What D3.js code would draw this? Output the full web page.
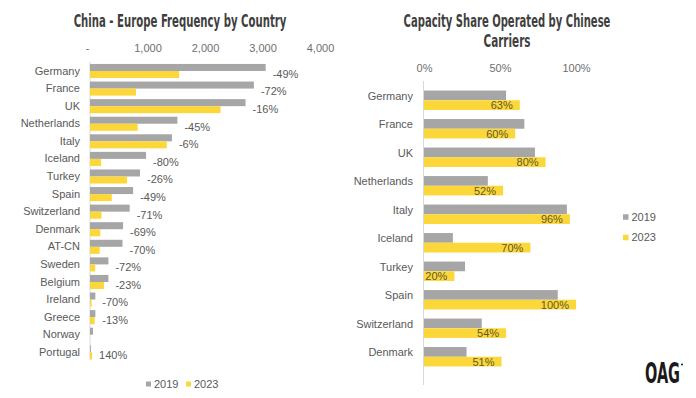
<!DOCTYPE html>
<html>
<head>
<meta charset="utf-8">
<script src="https://cdn.jsdelivr.net/npm/d3@7"></script>
<style>
  body { margin: 0; background: #fff; }
  svg text { font-family: "Liberation Sans", Arial, sans-serif; }
</style>
</head>
<body>
<div id="chart"></div>
<script>
// left chart: weekly frequencies China - Europe
const freqCountries = ["Germany", "France", "UK", "Netherlands", "Italy", "Iceland", "Turkey", "Spain",
  "Switzerland", "Denmark", "AT-CN", "Sweden", "Belgium", "Ireland", "Greece", "Norway", "Portugal"];
const freq2019 = [3055, 2850, 2705, 1520, 1425, 975, 870, 750, 690, 575, 565, 320, 320, 93, 93, 52, 15];
const freq2023 = [1550, 800, 2270, 830, 1335, 192, 643, 378, 200, 178, 168, 90, 245, 28, 80, 0, 36];
const freqChange = ["-49%", "-72%", "-16%", "-45%", "-6%", "-80%", "-26%", "-49%",
  "-71%", "-69%", "-70%", "-72%", "-23%", "-70%", "-13%", "", "140%"];
const freqTicks = [0, 1000, 2000, 3000, 4000];

// right chart: share of capacity by chinese carriers
const shareCountries = ["Germany", "France", "UK", "Netherlands", "Italy", "Iceland", "Turkey", "Spain",
  "Switzerland", "Denmark"];
const share2019 = [54, 66, 73, 42, 94, 19, 27, 88, 38, 28];
const share2023 = [63, 60, 80, 52, 96, 70, 20, 100, 54, 51];
const shareTicks = [0, 50, 100];

const years = ["2019", "2023"];
const grey = "#a6a6a6", yellow = "#fcd73a";
const textCol = "#595959";

const svg = d3.select("#chart").append("svg")
  .attr("width", 696)
  .attr("height", 398)
  .style("display", "block");

svg.append("rect").attr("width", 696).attr("height", 398).attr("fill", "#fff");

// condensed text: squeeze the narrow font horizontally to the wanted width
function squeezed(x, y, str, len, size, col) {
  let t = svg.append("text")
    .attr("text-anchor", "middle")
    .style("font-family", "'Liberation Sans Narrow', 'DejaVu Sans Condensed', sans-serif")
    .style("font-weight", "bold")
    .style("font-size", size + "px")
    .attr("fill", col)
    .text(str);
  let w = t.node().getComputedTextLength();
  t.attr("transform", "translate(" + x + "," + y + ") scale(" + (len / w) + ",1)");
  return t;
}

// ---------- left chart ----------
squeezed(180, 27, "China - Europe Frequency by Country", 213, 17, "#3f3f3f");

let x1 = d3.scaleLinear().domain([0, 4000]).range([90, 320]);
let y1 = d3.scaleBand().domain(freqCountries).range([62.2, 361.1])
  .paddingInner(0.2).paddingOuter(0.1);

let ax1 = svg.append("g")
  .attr("transform", "translate(0,52)")
  .call(d3.axisTop(x1).tickValues(freqTicks).tickSize(0).tickPadding(0)
    .tickFormat(d => d === 0 ? "-" : d3.format(",")(d)));
ax1.select(".domain").remove();
ax1.selectAll("text").style("font-size", "11px").attr("fill", "#6f6f6f");
ax1.selectAll("text").filter(d => d === 0).attr("dx", -3);

svg.append("line")
  .attr("x1", x1(0)).attr("x2", x1(0))
  .attr("y1", 62).attr("y2", 360)
  .attr("stroke", "#d9d9d9");

let cat1 = svg.append("g")
  .attr("transform", "translate(90,0)")
  .call(d3.axisLeft(y1).tickSize(0).tickPadding(10));
cat1.select(".domain").remove();
cat1.selectAll("text").style("font-size", "11px").attr("fill", textCol);

let bw1 = y1.bandwidth() / 2;
svg.append("g").selectAll("rect")
  .data(freqCountries)
  .enter().append("rect")
  .attr("x", x1(0))
  .attr("y", d => y1(d))
  .attr("width", (d, i) => x1(freq2019[i]) - x1(0))
  .attr("height", bw1)
  .attr("fill", grey);
svg.append("g").selectAll("rect")
  .data(freqCountries)
  .enter().append("rect")
  .attr("x", x1(0))
  .attr("y", d => y1(d) + bw1)
  .attr("width", (d, i) => x1(freq2023[i]) - x1(0))
  .attr("height", bw1)
  .attr("fill", yellow);

svg.append("g").selectAll("text")
  .data(freqCountries)
  .enter().append("text")
  .attr("x", (d, i) => x1(Math.max(freq2019[i], freq2023[i])) + 7)
  .attr("y", d => y1(d) + y1.bandwidth() / 2 + 3)
  .attr("dy", "0.35em")
  .style("font-size", "11px")
  .attr("fill", textCol)
  .text((d, i) => freqChange[i]);

// legend under left chart
let leg1 = svg.append("g").attr("transform", "translate(146,384)");
years.forEach((yr, i) => {
  let g = leg1.append("g").attr("transform", "translate(" + (i * 40) + ",0)");
  g.append("rect").attr("x", 0).attr("y", -2.5).attr("width", 5).attr("height", 5)
    .attr("fill", i === 0 ? grey : yellow);
  g.append("text").attr("x", 8).attr("dy", "0.35em")
    .style("font-size", "11px").attr("fill", textCol).text(yr);
});

// ---------- right chart ----------
squeezed(507, 26.7, "Capacity Share Operated by Chinese", 207, 17, "#3f3f3f");
squeezed(507, 46.7, "Carriers", 47, 17, "#3f3f3f");

let x2 = d3.scaleLinear().domain([0, 100]).range([424, 576]);
let y2 = d3.scaleBand().domain(shareCountries).range([86, 371])
  .paddingInner(0.32).paddingOuter(0.16);

let ax2 = svg.append("g")
  .attr("transform", "translate(0,72)")
  .call(d3.axisTop(x2).tickValues(shareTicks).tickSize(0).tickPadding(0)
    .tickFormat(d => d + "%"));
ax2.select(".domain").remove();
ax2.selectAll("text").style("font-size", "11px").attr("fill", "#6f6f6f");

svg.append("line")
  .attr("x1", x2(0) - 0.5).attr("x2", x2(0) - 0.5)
  .attr("y1", 81).attr("y2", 385)
  .attr("stroke", "#d9d9d9");

let cat2 = svg.append("g")
  .attr("transform", "translate(423,-4)")
  .call(d3.axisLeft(y2).tickSize(0).tickPadding(10));
cat2.select(".domain").remove();
cat2.selectAll("text").style("font-size", "11px").attr("fill", textCol);

let bw2 = y2.bandwidth() / 2;
svg.append("g").selectAll("rect")
  .data(shareCountries)
  .enter().append("rect")
  .attr("x", x2(0))
  .attr("y", d => y2(d))
  .attr("width", (d, i) => x2(share2019[i]) - x2(0))
  .attr("height", bw2)
  .attr("fill", grey);
svg.append("g").selectAll("rect")
  .data(shareCountries)
  .enter().append("rect")
  .attr("x", x2(0))
  .attr("y", d => y2(d) + bw2)
  .attr("width", (d, i) => x2(share2023[i]) - x2(0))
  .attr("height", bw2)
  .attr("fill", yellow);

svg.append("g").selectAll("text")
  .data(shareCountries)
  .enter().append("text")
  .attr("x", (d, i) => x2(share2023[i]) - 7)
  .attr("y", d => y2(d) + bw2 * 1.5)
  .attr("dy", "0.38em")
  .attr("text-anchor", "end")
  .style("font-size", "11px")
  .attr("fill", "#62582c")
  .text((d, i) => share2023[i] + "%");

// legend right side
let leg2 = svg.append("g").attr("transform", "translate(623,217)");
years.forEach((yr, i) => {
  let g = leg2.append("g").attr("transform", "translate(0," + (i * 20.5) + ")");
  g.append("rect").attr("x", 0).attr("y", -2.75).attr("width", 5.5).attr("height", 5.5)
    .attr("fill", i === 0 ? grey : yellow);
  g.append("text").attr("x", 8.5).attr("dy", "0.35em")
    .style("font-size", "11px").attr("fill", textCol).text(yr);
});

// OAG logo
squeezed(662.5, 383.3, "OAG", 35, 28, "#1a1a1a");
svg.append("circle")
  .attr("cx", 682).attr("cy", 364.5).attr("r", 1)
  .attr("fill", "#1a1a1a");
</script>
</body>
</html>
